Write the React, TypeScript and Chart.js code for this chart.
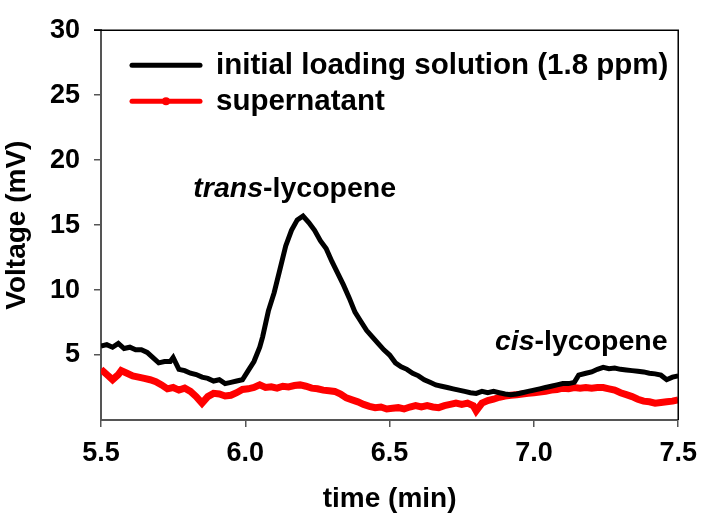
import React, { useEffect, useRef } from "react";
import { Chart, registerables } from "chart.js";

Chart.register(...registerables);

// Chromatogram traces: retention time (min) vs detector voltage (mV)
const loadingTime = [
  5.5, 5.52, 5.54, 5.56, 5.58, 5.6, 5.62, 5.64, 5.66, 5.68, 5.7, 5.72, 5.74, 5.75, 5.77, 5.79,
  5.81, 5.83, 5.85, 5.87, 5.89, 5.91, 5.93, 5.95, 5.97, 5.99, 6.01, 6.03, 6.05, 6.06, 6.08, 6.1,
  6.12, 6.14, 6.16, 6.18, 6.2, 6.22, 6.24, 6.26, 6.28, 6.3, 6.32, 6.34, 6.36, 6.38, 6.4, 6.42,
  6.44, 6.46, 6.48, 6.5, 6.52, 6.54, 6.56, 6.58, 6.6, 6.62, 6.64, 6.66, 6.68, 6.7, 6.72, 6.74,
  6.76, 6.78, 6.8, 6.82, 6.84, 6.86, 6.88, 6.9, 6.92, 6.94, 6.96, 6.98, 7.0, 7.02, 7.04, 7.06,
  7.08, 7.1, 7.12, 7.14, 7.155, 7.18, 7.2, 7.22, 7.24, 7.26, 7.28, 7.3, 7.32, 7.34, 7.36, 7.38,
  7.4, 7.42, 7.44, 7.46, 7.48, 7.5,
];
const loadingVoltage = [
  5.7, 5.8, 5.6, 5.9, 5.5, 5.6, 5.4, 5.4, 5.2, 4.8, 4.4, 4.5, 4.5, 4.8, 3.9, 3.8,
  3.6, 3.5, 3.3, 3.2, 3.0, 3.1, 2.8, 2.9, 3.0, 3.1, 3.8, 4.5, 5.6, 6.4, 8.4, 9.8,
  11.6, 13.4, 14.6, 15.4, 15.7, 15.2, 14.6, 13.8, 13.2, 12.2, 11.3, 10.4, 9.4, 8.3, 7.6, 6.9,
  6.4, 5.9, 5.4, 5.0, 4.4, 4.1, 3.9, 3.6, 3.4, 3.1, 2.9, 2.7, 2.6, 2.5, 2.4, 2.3,
  2.2, 2.1, 2.05, 2.2, 2.1, 2.2, 2.1, 2.0, 1.95, 2.0, 2.1, 2.2, 2.3, 2.4, 2.5, 2.6,
  2.7, 2.8, 2.8, 2.9, 3.45, 3.6, 3.7, 3.9, 4.05, 3.95, 4.0, 3.9, 3.85, 3.8, 3.75, 3.7,
  3.6, 3.55, 3.45, 3.1, 3.3, 3.4,
];

const supernatantTime = [
  5.5, 5.52, 5.54, 5.56, 5.57, 5.59, 5.61, 5.63, 5.65, 5.67, 5.69, 5.71, 5.73, 5.75, 5.77, 5.79,
  5.81, 5.83, 5.85, 5.87, 5.89, 5.91, 5.93, 5.95, 5.97, 5.99, 6.01, 6.03, 6.05, 6.07, 6.09, 6.11,
  6.13, 6.15, 6.17, 6.19, 6.21, 6.23, 6.25, 6.27, 6.29, 6.31, 6.33, 6.35, 6.37, 6.39, 6.41, 6.43,
  6.45, 6.47, 6.49, 6.51, 6.53, 6.55, 6.57, 6.59, 6.61, 6.63, 6.65, 6.67, 6.69, 6.71, 6.73, 6.75,
  6.77, 6.79, 6.8, 6.82, 6.84, 6.86, 6.88, 6.9, 6.92, 6.94, 6.96, 6.98, 7.0, 7.02, 7.04, 7.06,
  7.08, 7.1, 7.12, 7.14, 7.16, 7.18, 7.2, 7.22, 7.24, 7.26, 7.28, 7.3, 7.32, 7.34, 7.36, 7.38,
  7.4, 7.42, 7.44, 7.46, 7.48, 7.5,
];
const supernatantVoltage = [
  3.9, 3.5, 3.1, 3.5, 3.8, 3.6, 3.4, 3.3, 3.2, 3.1, 2.95, 2.7, 2.4, 2.5, 2.3, 2.45,
  2.2, 1.8, 1.3, 1.8, 2.05, 2.0, 1.85, 1.9, 2.1, 2.35, 2.4, 2.5, 2.7, 2.5, 2.55, 2.45,
  2.6, 2.55, 2.65, 2.7, 2.6, 2.45, 2.4, 2.3, 2.25, 2.2, 2.0, 1.7, 1.55, 1.4, 1.2, 1.05,
  0.95, 1.0, 0.85, 0.9, 0.95, 0.85, 1.0, 1.1, 1.0, 1.1, 1.0, 0.95, 1.1, 1.2, 1.3, 1.2,
  1.3, 1.1, 0.7, 1.3, 1.5, 1.6, 1.75, 1.85, 1.9, 1.95, 2.0, 2.05, 2.1, 2.15, 2.2, 2.3,
  2.35, 2.45, 2.4, 2.5, 2.45, 2.5, 2.45, 2.5, 2.5, 2.4, 2.3, 2.1, 1.95, 1.8, 1.6, 1.45,
  1.4, 1.3, 1.35, 1.4, 1.45, 1.55,
];

const seriesLabels = ["initial loading solution (1.8 ppm)", "supernatant"];
const seriesColors = ["#000000", "#ff0000"];
const yTickValues = [5, 10, 15, 20, 25, 30];
const xTickValues = [5.5, 6.0, 6.5, 7.0, 7.5];

const FONT = "'Liberation Sans', Arial, sans-serif";

const toPoints = (xs: number[], ys: number[]) => xs.map((x, i) => ({ x, y: ys[i] }));

// Frame, in-plot legend and peak labels
const overlayPlugin = {
  id: "overlay",
  afterDraw(chart: any) {
    const { ctx, chartArea } = chart;
    const { left, right, top, bottom } = chartArea;
    ctx.save();

    // top and right frame lines
    ctx.strokeStyle = "#000";
    ctx.lineWidth = 1.5;
    ctx.beginPath();
    ctx.moveTo(left - 7, top);
    ctx.lineTo(right, top);
    ctx.lineTo(right, bottom);
    ctx.stroke();

    // legend
    const legendX0 = left + 31;
    const legendX1 = left + 99;
    const rows = [top + 35, top + 71];
    ctx.font = `bold 29.5px ${FONT}`;
    ctx.textBaseline = "middle";
    ctx.textAlign = "left";
    seriesLabels.forEach((label, i) => {
      const y = rows[i];
      ctx.strokeStyle = seriesColors[i];
      ctx.lineWidth = 5;
      ctx.lineCap = "round";
      ctx.beginPath();
      ctx.moveTo(legendX0, y);
      ctx.lineTo(legendX1, y);
      ctx.stroke();
      if (i === 1) {
        ctx.fillStyle = seriesColors[i];
        ctx.beginPath();
        ctx.arc((legendX0 + legendX1) / 2, y, 4, 0, Math.PI * 2);
        ctx.fill();
      }
      ctx.fillStyle = "#000";
      ctx.fillText(label, legendX1 + 16, y + 1);
    });

    // peak labels: italic isomer prefix followed by the compound name
    const drawLabel = (prefix: string, rest: string, x: number, y: number) => {
      ctx.fillStyle = "#000";
      ctx.textBaseline = "alphabetic";
      ctx.font = `italic bold 28.5px ${FONT}`;
      ctx.fillText(prefix, x, y);
      const w = ctx.measureText(prefix).width;
      ctx.font = `bold 28.5px ${FONT}`;
      ctx.fillText(rest, x + w, y);
    };
    const xs = chart.scales.x;
    const ys = chart.scales.y;
    drawLabel("trans", "-lycopene", xs.getPixelForValue(5.82), ys.getPixelForValue(17.2));
    drawLabel("cis", "-lycopene", xs.getPixelForValue(6.865), ys.getPixelForValue(5.35));

    ctx.restore();
  },
};

export default function App() {
  const canvasRef = useRef<HTMLCanvasElement | null>(null);

  useEffect(() => {
    document.body.style.margin = "0";
    const canvas = canvasRef.current;
    if (!canvas) return;

    const chart = new Chart(canvas, {
      type: "line",
      data: {
        datasets: [
          {
            label: seriesLabels[0],
            data: toPoints(loadingTime, loadingVoltage),
            borderColor: seriesColors[0],
            borderWidth: 5,
            pointRadius: 0,
            tension: 0,
          },
          {
            label: seriesLabels[1],
            data: toPoints(supernatantTime, supernatantVoltage),
            borderColor: seriesColors[1],
            borderWidth: 7,
            pointRadius: 0,
            tension: 0,
          },
        ],
      },
      options: {
        animation: false,
        responsive: false,
        layout: { padding: { top: 15, right: 24, left: 0, bottom: 0 } },
        plugins: {
          legend: { display: false },
          tooltip: { enabled: false },
        },
        scales: {
          x: {
            type: "linear",
            min: 5.5,
            max: 7.5,
            afterBuildTicks: (scale: any) => {
              scale.ticks = xTickValues.map((value) => ({ value }));
            },
            afterFit: (scale: any) => {
              scale.height = 104;
            },
            ticks: {
              color: "#000",
              font: { family: FONT, size: 27, weight: "bold" },
              padding: 10,
              maxRotation: 0,
              callback: (v: any) => Number(v).toFixed(1),
            },
            grid: {
              display: true,
              drawOnChartArea: false,
              drawTicks: true,
              tickLength: 7,
              color: "#555",
              lineWidth: 1.5,
            },
            border: { display: true, color: "#555", width: 2 },
            title: {
              display: true,
              text: "time (min)",
              color: "#000",
              font: { family: FONT, size: 28, weight: "bold" },
              padding: { top: 0, bottom: 8 },
            },
          },
          y: {
            type: "linear",
            min: 0,
            max: 30,
            afterBuildTicks: (scale: any) => {
              scale.ticks = yTickValues.map((value) => ({ value }));
            },
            afterFit: (scale: any) => {
              scale.width = 101;
            },
            ticks: {
              color: "#000",
              font: { family: FONT, size: 27, weight: "bold" },
              padding: 14,
            },
            grid: {
              display: true,
              drawOnChartArea: false,
              drawTicks: true,
              tickLength: 7,
              color: "#555",
              lineWidth: 1.5,
            },
            border: { display: true, color: "#555", width: 2 },
            title: {
              display: true,
              text: "Voltage (mV)",
              color: "#000",
              font: { family: FONT, size: 28, weight: "bold" },
              padding: { top: 0, bottom: 0 },
            },
          },
        },
      },
      plugins: [overlayPlugin],
    });

    return () => chart.destroy();
  }, []);

  return <canvas ref={canvasRef} width={707} height={524} style={{ display: "block" }} />;
}
